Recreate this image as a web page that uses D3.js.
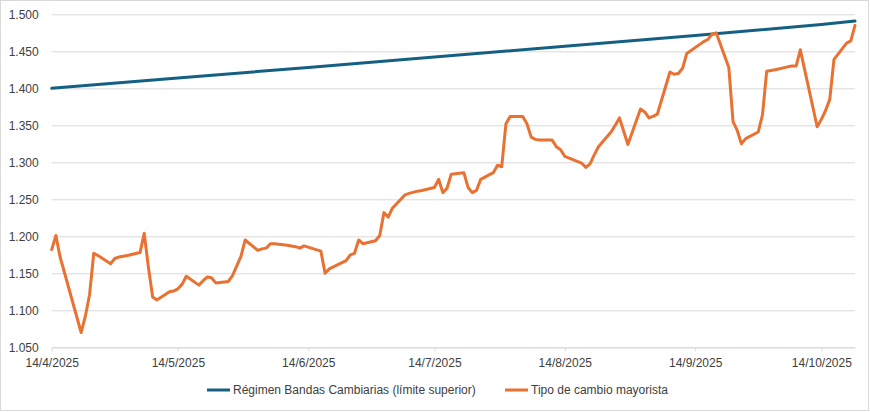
<!DOCTYPE html>
<html>
<head>
<meta charset="utf-8">
<script src="https://cdn.jsdelivr.net/npm/d3@7"></script>
<style>
  html, body { margin: 0; padding: 0; background: #ffffff; }
  svg { display: block; font-family: "Liberation Sans", Arial, sans-serif; }
</style>
</head>
<body>
<svg id="chart" width="870" height="412"></svg>
<script>
// ---- Data ----
const fxDates = [
  "2025-04-14","2025-04-15","2025-04-16","2025-04-21","2025-04-22","2025-04-23","2025-04-24","2025-04-25",
  "2025-04-28","2025-04-29","2025-04-30","2025-05-02","2025-05-05","2025-05-06","2025-05-07","2025-05-08",
  "2025-05-09","2025-05-12","2025-05-13","2025-05-14","2025-05-15","2025-05-16","2025-05-19","2025-05-20",
  "2025-05-21","2025-05-22","2025-05-23","2025-05-26","2025-05-27","2025-05-28","2025-05-29","2025-05-30",
  "2025-06-02","2025-06-03","2025-06-04","2025-06-05","2025-06-06","2025-06-09","2025-06-10","2025-06-11",
  "2025-06-12","2025-06-13","2025-06-17","2025-06-18","2025-06-19","2025-06-23","2025-06-24","2025-06-25",
  "2025-06-26","2025-06-27","2025-06-30","2025-07-01","2025-07-02","2025-07-03","2025-07-04","2025-07-07",
  "2025-07-08","2025-07-10","2025-07-11","2025-07-14","2025-07-15","2025-07-16","2025-07-17","2025-07-18",
  "2025-07-21","2025-07-22","2025-07-23","2025-07-24","2025-07-25","2025-07-28","2025-07-29","2025-07-30",
  "2025-07-31","2025-08-01","2025-08-04","2025-08-05","2025-08-06","2025-08-07","2025-08-08","2025-08-11",
  "2025-08-12","2025-08-13","2025-08-14","2025-08-18","2025-08-19","2025-08-20","2025-08-21","2025-08-22",
  "2025-08-25","2025-08-26","2025-08-27","2025-08-28","2025-08-29","2025-09-01","2025-09-02","2025-09-03",
  "2025-09-04","2025-09-05","2025-09-08","2025-09-09","2025-09-10","2025-09-11","2025-09-12","2025-09-15",
  "2025-09-16","2025-09-17","2025-09-18","2025-09-19","2025-09-22","2025-09-23","2025-09-24","2025-09-25",
  "2025-09-26","2025-09-29","2025-09-30","2025-10-01","2025-10-02","2025-10-03","2025-10-06","2025-10-07",
  "2025-10-08","2025-10-09","2025-10-13","2025-10-14","2025-10-15","2025-10-16","2025-10-17","2025-10-20",
  "2025-10-21","2025-10-22"
];
const fxValues = [
  1182,1201,1172,1070,1092,1121,1177,1174,
  1163,1170,1172,1174,1178,1204,1158,1118,
  1114,1125,1126,1129,1135,1146,1134,1140,
  1145,1144,1137,1139,1147,1160,1173,1195,
  1181,1183,1184,1190,1190,1188,1187,1186,
  1184,1187,1180,1150,1156,1167,1175,1177,
  1195,1190,1194,1201,1232,1226,1238,1256,
  1258,1261,1262,1266,1277,1259,1265,1284,
  1286,1266,1259,1262,1277,1286,1296,1294,
  1352,1362,1362,1352,1334,1331,1330,1330,
  1321,1317,1308,1299,1293,1298,1310,1321,
  1341,1350,1360,1342,1324,1372,1368,1360,
  1362,1365,1422,1419,1420,1427,1447,1459,
  1463,1466,1473,1475,1428,1355,1343,1325,
  1332,1341,1364,1423,1424,1425,1429,1430,
  1430,1452,1348,1358,1370,1385,1439,1461,
  1464,1485
];
const bandDates  = ["2025-04-14","2025-05-14","2025-06-14","2025-07-14","2025-08-14","2025-09-14","2025-10-14","2025-10-22"];
const bandValues = [1400, 1414, 1428.1, 1442.4, 1456.8, 1471.4, 1486.1, 1490.8];
const yTickValues = [1050, 1100, 1150, 1200, 1250, 1300, 1350, 1400, 1450, 1500];
const xTickDates  = ["2025-04-14","2025-05-14","2025-06-14","2025-07-14","2025-08-14","2025-09-14","2025-10-14"];
const seriesNames = ["Régimen Bandas Cambiarias (límite superior)", "Tipo de cambio mayorista"];
const seriesColors = ["#156082", "#E97132"];

// ---- Setup ----
const parse = d3.utcParse("%Y-%m-%d");
const svg = d3.select("#chart");
const W = 870, H = 412;
const plot = { left: 51.7, right: 855, top: 14.3, bottom: 347.3 };

const x = d3.scaleUtc()
  .domain([parse("2025-04-14"), parse("2025-10-22")])
  .range([plot.left, plot.right]);
const y = d3.scaleLinear()
  .domain([1050, 1500])
  .range([plot.bottom, plot.top]);

const loc = d3.formatLocale({ decimal: ",", thousands: ".", grouping: [3], currency: ["$", ""] });
const yFmt = loc.format(",.0f");
const xFmt = d3.utcFormat("%-d/%-m/%Y");

// chart area border
svg.append("rect")
  .attr("x", 0.5).attr("y", 0.5)
  .attr("width", W - 2).attr("height", H - 2)
  .attr("fill", "#ffffff").attr("stroke", "#d9d9d9").attr("stroke-width", 1);

// gridlines + y labels
const yAxis = d3.axisLeft(y).tickValues(yTickValues).tickFormat(yFmt)
  .tickSize(-(plot.right - plot.left)).tickPadding(13);
const gy = svg.append("g").attr("transform", `translate(${plot.left},0)`).call(yAxis);
gy.select(".domain").remove();
gy.selectAll(".tick line").attr("stroke", "#d9d9d9").attr("stroke-width", 1);
gy.selectAll(".tick text")
  .attr("fill", "#404040").attr("font-size", "12px")
  .attr("font-family", "'Liberation Sans', Arial, sans-serif");

// x axis
const xAxis = d3.axisBottom(x)
  .tickValues(xTickDates.map(parse))
  .tickFormat(xFmt).tickSize(4).tickSizeOuter(0).tickPadding(7);
const gx = svg.append("g").attr("transform", `translate(0,${plot.bottom})`).call(xAxis);
gx.select(".domain").attr("stroke", "#d9d9d9");
gx.selectAll(".tick line").attr("stroke", "#d9d9d9");
gx.selectAll(".tick text")
  .attr("fill", "#404040").attr("font-size", "12px")
  .attr("font-family", "'Liberation Sans', Arial, sans-serif");

// lines
const line = d3.line()
  .x(d => x(d.date))
  .y(d => y(d.value));

const bandData = bandDates.map((d, i) => ({ date: parse(d), value: bandValues[i] }));
const fxData = fxDates.map((d, i) => ({ date: parse(d), value: fxValues[i] }));

svg.append("path").datum(bandData)
  .attr("d", line).attr("fill", "none")
  .attr("stroke", seriesColors[0]).attr("stroke-width", 3)
  .attr("stroke-linejoin", "round").attr("stroke-linecap", "round");

svg.append("path").datum(fxData)
  .attr("d", line).attr("fill", "none")
  .attr("stroke", seriesColors[1]).attr("stroke-width", 3)
  .attr("stroke-linejoin", "round").attr("stroke-linecap", "round");

// legend
const legendY = 390;
const legendItems = [
  { x: 207, name: seriesNames[0], color: seriesColors[0] },
  { x: 505, name: seriesNames[1], color: seriesColors[1] }
];
const lg = svg.append("g");
legendItems.forEach(it => {
  lg.append("line")
    .attr("x1", it.x).attr("x2", it.x + 23)
    .attr("y1", legendY).attr("y2", legendY)
    .attr("stroke", it.color).attr("stroke-width", 3);
  lg.append("text")
    .attr("x", it.x + 26).attr("y", legendY + 4)
    .attr("fill", "#404040").attr("font-size", "12px")
    .attr("font-family", "'Liberation Sans', Arial, sans-serif")
    .text(it.name);
});
</script>
</body>
</html>
